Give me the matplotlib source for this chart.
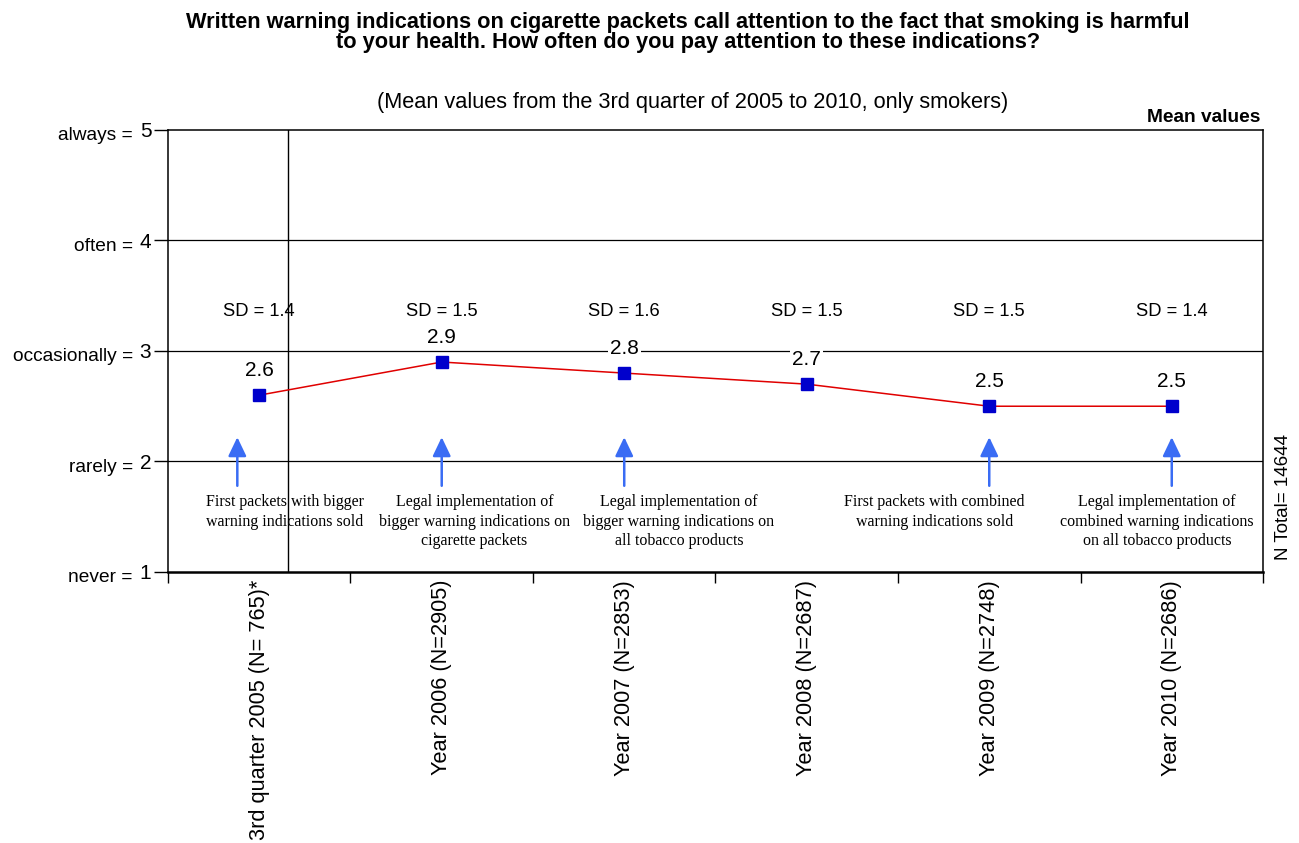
import matplotlib
matplotlib.use("Agg")
import matplotlib.pyplot as plt
from matplotlib.transforms import blended_transform_factory

categories = ["3rd quarter 2005 (N= 765)*", "Year 2006 (N=2905)", "Year 2007 (N=2853)",
              "Year 2008 (N=2687)", "Year 2009 (N=2748)", "Year 2010 (N=2686)"]
means = [2.6, 2.9, 2.8, 2.7, 2.5, 2.5]
sd_labels = ["SD = 1.4", "SD = 1.5", "SD = 1.6", "SD = 1.5", "SD = 1.5", "SD = 1.4"]
y_ticks = [1, 2, 3, 4, 5]
y_words = ["never =", "rarely =", "occasionally =", "often =", "always ="]
arrow_x = [-0.12, 1, 2, 4, 5]
note_x = [0.14, 1.18, 2.30, 3.70, 4.92]
notes = ["First packets with bigger\nwarning indications sold",
         "Legal implementation of\nbigger warning indications on\ncigarette packets",
         "Legal implementation of\nbigger warning indications on\nall tobacco products",
         "First packets with combined\nwarning indications sold",
         "Legal implementation of\ncombined warning indications\non all tobacco products"]

plt.rcParams['font.family'] = ['Liberation Sans', 'DejaVu Sans']

fig = plt.figure(figsize=(12.99, 8.43), dpi=100)
ax = fig.add_axes([0.1293, 0.3215, 0.8430, 0.5243])

x = list(range(len(categories)))
ax.set_xlim(-0.5, len(categories) - 0.5)
ax.set_ylim(1, 5)

for yv in [2, 3, 4]:
    ax.axhline(yv, color='black', lw=0.9, zorder=1)
ax.axvline(0.16, color='black', lw=1.0, zorder=1)

ax.plot(x, means, color='#e00000', lw=1.1, marker='s', markersize=9,
        markerfacecolor='#0000cc', markeredgecolor='#0000cc', zorder=4)

for xi, m in zip(x, means):
    ax.annotate(f"{m:.1f}", (xi, m), xytext=(0, 17.5), textcoords='offset points',
                ha='center', va='center', fontsize=15, zorder=3,
                bbox=dict(boxstyle='square,pad=0.1', fc='white', ec='none'))
for xi, s in zip(x, sd_labels):
    ax.text(xi, 3.36, s, ha='center', va='center', fontsize=13.2, zorder=3)

for ax_x in arrow_x:
    ax.annotate("", xy=(ax_x, 2.22), xytext=(ax_x, 1.78),
                arrowprops=dict(arrowstyle='-|>,head_length=1.15,head_width=0.55',
                                mutation_scale=10, color='#3a6cf4', lw=1.8,
                                shrinkA=0, shrinkB=0), zorder=3)
for nx, t in zip(note_x, notes):
    ax.text(nx, 1.705, t, ha='center', va='top', fontsize=11.5, linespacing=1.3,
            family=['Liberation Serif', 'DejaVu Serif'], zorder=3)

# x ticks at boundaries, labels at centers
ax.set_xticks([i - 0.5 for i in range(len(categories) + 1)])
ax.set_xticklabels([])
ax.tick_params(axis='x', direction='out', length=8, width=1)
xtr = blended_transform_factory(ax.transData, ax.transAxes)
for xi, c in zip(x, categories):
    ax.text(xi, -0.018, c, transform=xtr, rotation=90, ha='center', va='top', fontsize=15.7)

ax.set_yticks(y_ticks)
ax.set_yticklabels([str(v) for v in y_ticks], fontsize=15)
ax.tick_params(axis='y', direction='out', length=10, width=1, pad=2)
ytr = blended_transform_factory(ax.transAxes, ax.transData)
for yv, w in zip(y_ticks, y_words):
    ax.text(-0.032, yv - 0.05, w, transform=ytr, ha='right', va='center', fontsize=13.8)

for sp in ax.spines.values():
    sp.set_linewidth(1.1)
    sp.set_color('black')
ax.spines['bottom'].set_linewidth(1.8)

fig.text(0.5296, 0.9615, "Written warning indications on cigarette packets call attention to the fact that smoking is harmful\nto your health. How often do you pay attention to these indications?",
         ha='center', va='center', fontsize=15.7, fontweight='bold', linespacing=0.95)
fig.text(0.533, 0.879, "(Mean values from the 3rd quarter of 2005 to 2010, only smokers)",
         ha='center', va='center', fontsize=15.7)
fig.text(0.970, 0.861, "Mean values", ha='right', va='center', fontsize=13.8, fontweight='bold')
fig.text(0.988, 0.410, "N Total= 14644", ha='center', va='center', rotation=90, fontsize=13.6)

fig.savefig("out.png", dpi=100, facecolor='white')
